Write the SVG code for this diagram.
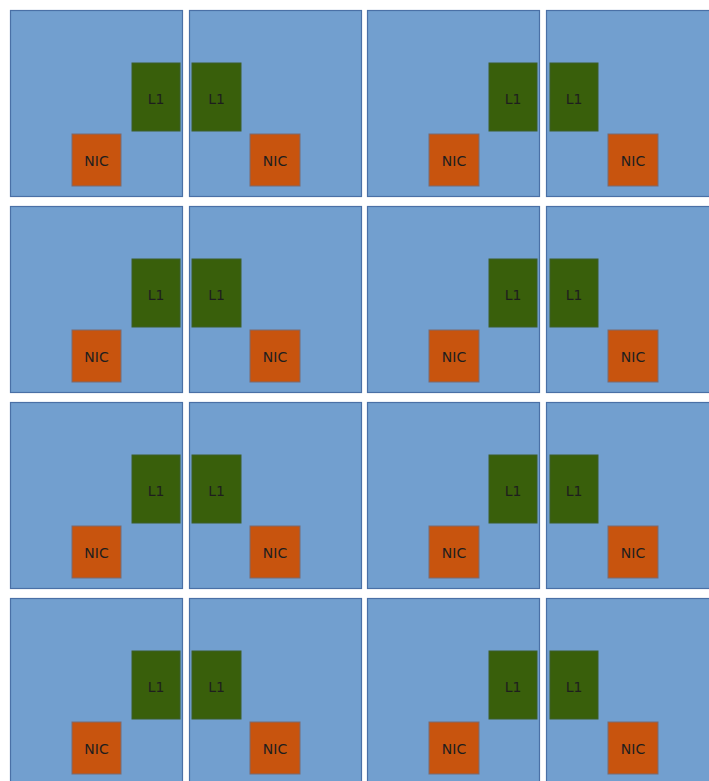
<svg xmlns="http://www.w3.org/2000/svg" width="709" height="781" viewBox="0 0 709 781">
<style>
.tile{fill:#729fcf;stroke:#4a70a6;stroke-width:1.2}
.l1{fill:#395f0b;stroke:#3d5f2a;stroke-width:1}
.nic{fill:#c8540e;stroke:#7a6a70;stroke-width:1}
.t{font-family:"DejaVu Sans","Liberation Sans",sans-serif;font-size:14px;fill:#1e1e1e;text-anchor:middle}
</style>
<rect width="709" height="781" fill="#ffffff"/>
<defs>
<g id="A">
<rect class="tile" x="10.5" y="10.5" width="172" height="186"/>
<rect class="l1" x="132" y="63" width="48" height="68"/><text class="t" x="156" y="104">L1</text>
<rect class="nic" x="72" y="134" width="49" height="52"/><text class="t" x="96.5" y="166">NIC</text>
</g>
<g id="B">
<rect class="tile" x="189.5" y="10.5" width="172" height="186"/>
<rect class="l1" x="192" y="63" width="49" height="68"/><text class="t" x="216.5" y="104">L1</text>
<rect class="nic" x="250" y="134" width="50" height="52"/><text class="t" x="275" y="166">NIC</text>
</g>
<g id="C">
<rect class="tile" x="367.5" y="10.5" width="172" height="186"/>
<rect class="l1" x="489" y="63" width="48" height="68"/><text class="t" x="513" y="104">L1</text>
<rect class="nic" x="429" y="134" width="50" height="52"/><text class="t" x="454" y="166">NIC</text>
</g>
<g id="D">
<rect class="tile" x="546.5" y="10.5" width="180" height="186"/>
<rect class="l1" x="550" y="63" width="48" height="68"/><text class="t" x="574" y="104">L1</text>
<rect class="nic" x="608" y="134" width="50" height="52"/><text class="t" x="633" y="166">NIC</text>
</g>
</defs>
<g id="row1">
<g id="tile-1-1"><use href="#A"/></g>
<g id="tile-1-2"><use href="#B"/></g>
<g id="tile-1-3"><use href="#C"/></g>
<g id="tile-1-4"><use href="#D"/></g>
</g>
<g id="row2" transform="translate(0,196)">
<g id="tile-2-1"><use href="#A"/></g>
<g id="tile-2-2"><use href="#B"/></g>
<g id="tile-2-3"><use href="#C"/></g>
<g id="tile-2-4"><use href="#D"/></g>
</g>
<g id="row3" transform="translate(0,392)">
<g id="tile-3-1"><use href="#A"/></g>
<g id="tile-3-2"><use href="#B"/></g>
<g id="tile-3-3"><use href="#C"/></g>
<g id="tile-3-4"><use href="#D"/></g>
</g>
<g id="row4" transform="translate(0,588)">
<g id="tile-4-1"><use href="#A"/></g>
<g id="tile-4-2"><use href="#B"/></g>
<g id="tile-4-3"><use href="#C"/></g>
<g id="tile-4-4"><use href="#D"/></g>
</g>
<g id="connectors"/>
</svg>
